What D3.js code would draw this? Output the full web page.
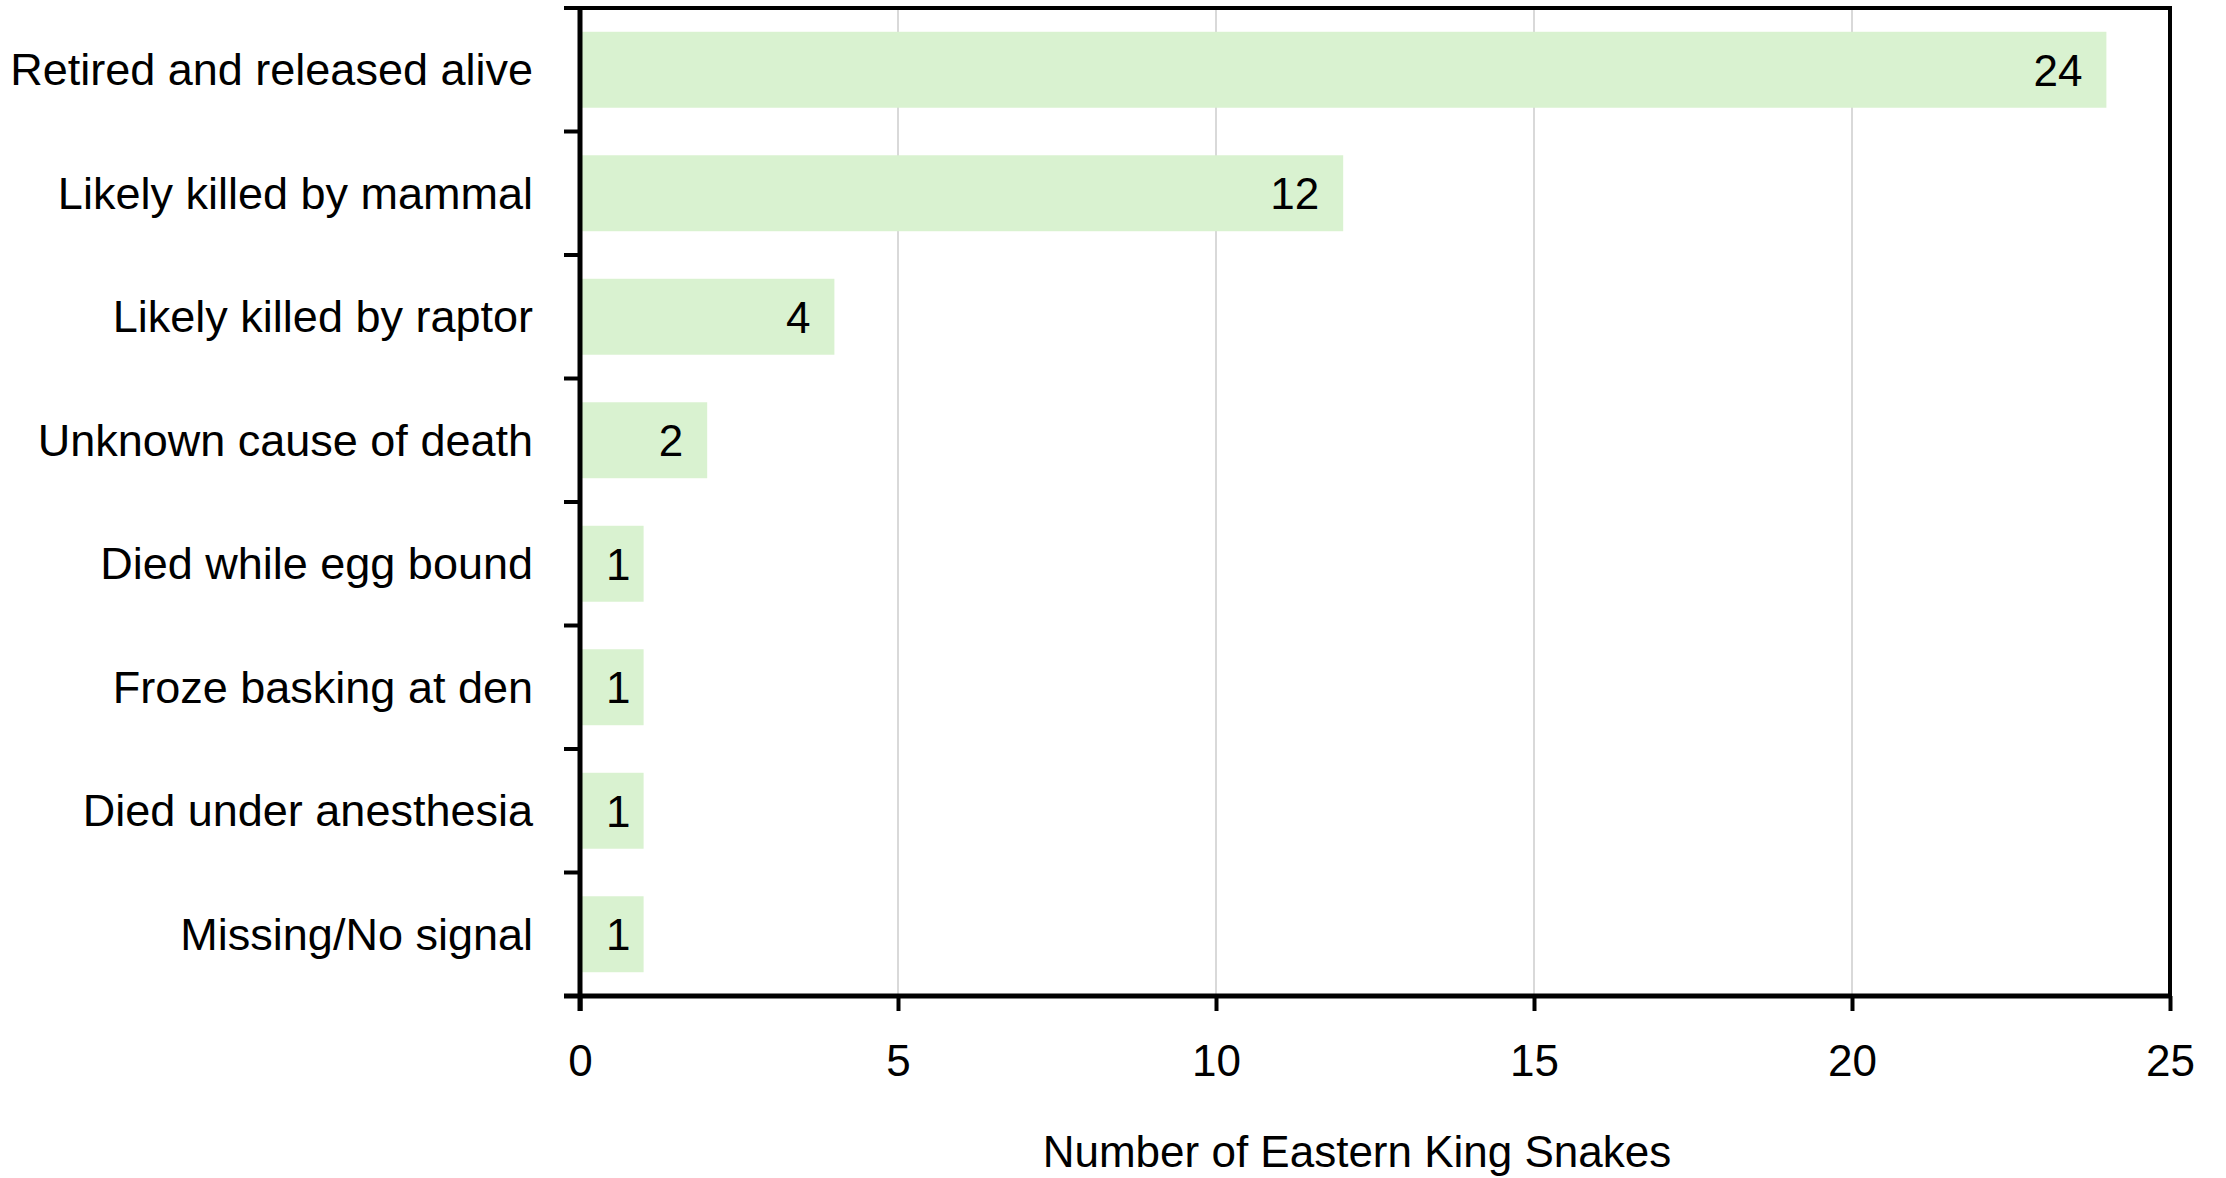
<!DOCTYPE html>
<html>
<head>
<meta charset="utf-8">
<script src="https://cdn.jsdelivr.net/npm/d3@7"></script>
<style>
  html, body { margin: 0; padding: 0; background: #ffffff; }
  svg { display: block; }
  text { font-family: "Liberation Sans", Arial, sans-serif; fill: #000; }
</style>
</head>
<body>
<svg id="chart" width="2226" height="1178"></svg>
<script>
const categories = [
  "Retired and released alive",
  "Likely killed by mammal",
  "Likely killed by raptor",
  "Unknown cause of death",
  "Died while egg bound",
  "Froze basking at den",
  "Died under anesthesia",
  "Missing/No signal"
];
const values = [24, 12, 4, 2, 1, 1, 1, 1];
const xTicks = [0, 5, 10, 15, 20, 25];
const xTitle = "Number of Eastern King Snakes";

(function () {
const mLeft = 580, mRight = 2170, mTop = 8, mBottom = 996;
const svg = d3.select("#chart");

const x = d3.scaleLinear().domain([0, 25]).range([mLeft, mRight]);
const y = d3.scaleBand().domain(categories).range([mTop, mBottom]).paddingInner(0.385).paddingOuter(0.1925);
const yb = d3.scaleBand().domain(categories).range([mTop, mBottom]);

// gridlines
svg.append("g").selectAll("line").data(xTicks.filter(t => t > 0 && t < 25)).join("line")
  .attr("x1", d => x(d)).attr("x2", d => x(d))
  .attr("y1", mTop).attr("y2", mBottom)
  .attr("stroke", "#d9d9d9").attr("stroke-width", 2);

// bars
svg.append("g").selectAll("rect").data(values).join("rect")
  .attr("x", x(0))
  .attr("y", (d, i) => y(categories[i]))
  .attr("width", d => x(d) - x(0))
  .attr("height", y.bandwidth())
  .attr("fill", "#d9f2d0");

// value labels (the single "1" glyph sits further right in the original font)
svg.append("g").selectAll("text").data(values).join("text")
  .attr("x", d => x(d) - 24 + (String(d) === "1" ? 11 : 0))
  .attr("y", (d, i) => y(categories[i]) + y.bandwidth() / 2 + 16)
  .attr("text-anchor", "end")
  .attr("font-size", 44)
  .text(d => d);

// border top & right
svg.append("line").attr("x1", mLeft - 16).attr("x2", mRight + 2).attr("y1", mTop).attr("y2", mTop)
  .attr("stroke", "#000").attr("stroke-width", 4);
svg.append("line").attr("x1", mRight).attr("x2", mRight).attr("y1", mTop).attr("y2", mBottom)
  .attr("stroke", "#000").attr("stroke-width", 4);

// x axis
const xAxis = d3.axisBottom(x).tickValues(xTicks).tickSize(15).tickPadding(34).tickFormat(d3.format("d"));
const gx = svg.append("g").attr("transform", `translate(0,${mBottom})`).call(xAxis);
gx.select(".domain").attr("stroke", "#000").attr("stroke-width", 5)
  .attr("d", `M${mLeft - 16},0H${mRight + 2}`);
gx.selectAll(".tick line").attr("stroke", "#000").attr("stroke-width", 4);
gx.selectAll(".tick text").attr("font-size", 44).attr("font-family", "Liberation Sans, Arial, sans-serif").attr("fill", "#000");

// y axis: ticks at band boundaries
const gy = svg.append("g");
gy.append("line").attr("x1", mLeft).attr("x2", mLeft).attr("y1", mTop - 2).attr("y2", mBottom + 15)
  .attr("stroke", "#000").attr("stroke-width", 5);
const bounds = categories.map(c => yb(c)).concat([mBottom]);
gy.selectAll("line.t").data(bounds).join("line").attr("class", "t")
  .attr("x1", mLeft - 16).attr("x2", mLeft)
  .attr("y1", d => d).attr("y2", d => d)
  .attr("stroke", "#000").attr("stroke-width", 4);
gy.selectAll("text").data(categories).join("text")
  .attr("x", 533)
  .attr("y", d => yb(d) + yb.bandwidth() / 2 + 15.5)
  .attr("text-anchor", "end")
  .attr("font-size", 45)
  .text(d => d);

// x title
svg.append("text")
  .attr("x", 1357)
  .attr("y", 1167)
  .attr("text-anchor", "middle")
  .attr("font-size", 44)
  .text(xTitle);
})();
</script>
</body>
</html>
